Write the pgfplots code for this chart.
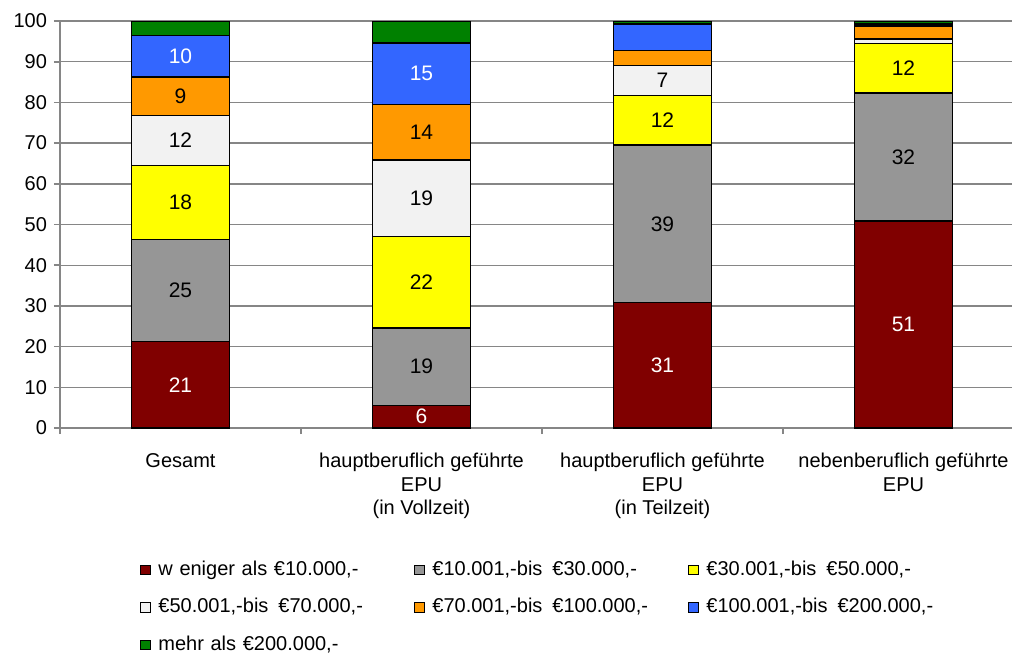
\documentclass[border=0pt]{standalone}
\usepackage{fontspec}
\setmainfont{Liberation Sans}
\usepackage{pgfplots}
\usepackage{pgfplotstable}
\pgfplotsset{compat=1.18}
\definecolor{cRed}{RGB}{128,0,0}
\definecolor{cGray}{RGB}{150,150,150}
\definecolor{cYellow}{RGB}{255,255,0}
\definecolor{cWhite}{RGB}{242,242,242}
\definecolor{cOrange}{RGB}{255,153,0}
\definecolor{cBlue}{RGB}{51,102,255}
\definecolor{cGreen}{RGB}{0,128,0}
\definecolor{axgray}{RGB}{134,134,134}

% shares in percent, label columns hold the printed (rounded) numbers
\pgfplotstableread{
x a    la b    lb c    lc d    ld e   le f    lf g   lg
0 21.2 21 25.1 25 18.2 18 12.3 12 9.4 9  10.3 10 3.5 {}
1 5.6  6  19.0 19 22.4 22 18.8 19 13.7 14 15.1 15 5.4 {}
2 30.8 31 38.7 39 12.2 12 7.3  7  3.8 {} 6.5  {} 0.7 {}
3 50.9 51 31.4 32 12.1 12 1.2  {} 3.2 {} 0.5  {} 0.7 {}
}\shares

\begin{document}
\begin{tikzpicture}
\begin{axis}[
 scale only axis,width=482pt,height=203.5pt,
 at={(0,0)},anchor=south west,
 ybar stacked,bar width=48.8pt,
 xmin=-0.5,xmax=3.5,ymin=0,ymax=100,
 ytick={0,10,...,100},
 xtick={-0.5,0.5,1.5,2.5,3.5},xticklabel={\mbox{}},
 extra x ticks={0,1,2,3},
 extra x tick labels={Gesamt,hauptberuflich geführte\\EPU\\(in Vollzeit),hauptberuflich geführte\\EPU\\(in Teilzeit),nebenberuflich geführte\\EPU},
 extra x tick style={major tick length=0pt},
 axis x line=bottom,axis y line=left,
 axis line style={-,draw=axgray,line width=0.8pt},
 ymajorgrids,grid style={axgray,line width=0.7pt},
 tick align=outside,major tick length=3pt,
 tick style={axgray,line width=0.8pt},
 /pgf/number format/assume math mode=true,
 tick label style={font=\fontsize{10}{11.75}\selectfont,text=black},
 xticklabel style={align=center,yshift=-9pt},
 point meta=explicit symbolic,
 nodes near coords,
 every node near coord/.append style={font=\fontsize{10.5}{12}\selectfont},
 legend columns=3,
 legend style={draw=none,at={(0.083,-0.324)},anchor=north west,inner sep=0pt,
   font=\fontsize{10}{12}\selectfont,
   nodes={inner sep=0pt,text width=128pt,align=left,text height=7.5pt,text depth=2.5pt},
   /tikz/every odd column/.style={column sep=4pt},
   row sep=8.75pt},
 legend image code/.code={\draw[#1,draw=black,line width=0.4pt] (0pt,-2.2pt) rectangle (4.6pt,2.6pt);},
]
\addplot[fill=cRed,draw=black,line width=0.7pt,every node near coord/.append style={text=white}] table[x=x,y=a,meta=la]{\shares};
\addplot[fill=cGray,draw=black,line width=0.7pt] table[x=x,y=b,meta=lb]{\shares};
\addplot[fill=cYellow,draw=black,line width=0.7pt] table[x=x,y=c,meta=lc]{\shares};
\addplot[fill=cWhite,draw=black,line width=0.7pt] table[x=x,y=d,meta=ld]{\shares};
\addplot[fill=cOrange,draw=black,line width=0.7pt] table[x=x,y=e,meta=le]{\shares};
\addplot[fill=cBlue,draw=black,line width=0.7pt,every node near coord/.append style={text=white}] table[x=x,y=f,meta=lf]{\shares};
\addplot[fill=cGreen,draw=black,line width=0.7pt] table[x=x,y=g,meta=lg]{\shares};
\legend{w eniger als €10.000\mbox{,-},€10.001\mbox{,-}bis \,€30.000\mbox{,-},€30.001\mbox{,-}bis \,€50.000\mbox{,-},€50.001\mbox{,-}bis \,€70.000\mbox{,-},€70.001\mbox{,-}bis \,€100.000\mbox{,-},€100.001\mbox{,-}bis \,€200.000\mbox{,-},mehr als €200.000\mbox{,-}}
\end{axis}
\pgfresetboundingbox
\path[use as bounding box] (-30pt,-113pt) rectangle (476pt,214pt);
\end{tikzpicture}
\end{document}
